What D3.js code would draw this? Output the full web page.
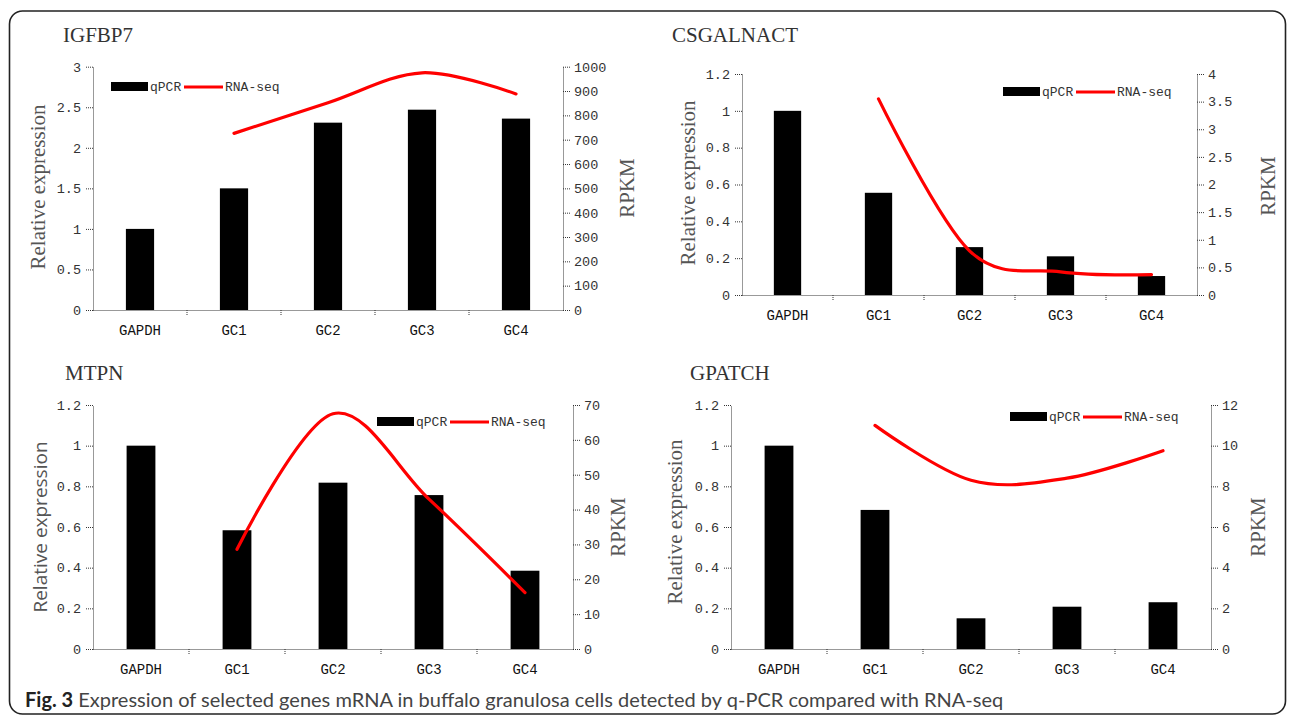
<!DOCTYPE html>
<html>
<head>
<meta charset="utf-8">
<script src="https://cdn.jsdelivr.net/npm/d3@7"></script>
<style>
body { margin: 0; background: #fff; }
svg { display: block; }
</style>
</head>
<body>
<svg id="fig" width="1290" height="719"></svg>
<script>
// data
var categories = ["GAPDH", "GC1", "GC2", "GC3", "GC4"];

var igfbp7Qpcr = [1, 1.5, 2.31, 2.47, 2.36];
var igfbp7Rpkm = [null, 726, 852, 975, 888];

var csgalnactQpcr = [1, 0.555, 0.26, 0.21, 0.103];
var csgalnactRpkm = [null, 3.55, 0.8, 0.42, 0.37];

var mtpnQpcr = [1, 0.584, 0.818, 0.757, 0.385];
var mtpnRpkm = [null, 28.6, 67.5, 43, 16.2];

var gpatchQpcr = [1, 0.684, 0.151, 0.208, 0.23];
var gpatchRpkm = [null, 11.0, 8.3, 8.4, 9.75];

var ticksRel3 = [0, 0.5, 1, 1.5, 2, 2.5, 3];
var ticksRel12 = [0, 0.2, 0.4, 0.6, 0.8, 1, 1.2];
var ticksRpkm1000 = [0, 100, 200, 300, 400, 500, 600, 700, 800, 900, 1000];
var ticksRpkm4 = [0, 0.5, 1, 1.5, 2, 2.5, 3, 3.5, 4];
var ticksRpkm70 = [0, 10, 20, 30, 40, 50, 60, 70];
var ticksRpkm12 = [0, 2, 4, 6, 8, 10, 12];

var captionBold = "Fig. 3";
var captionText = " Expression of selected genes mRNA in buffalo granulosa cells detected by q-PCR compared with RNA-seq";

var panels = [
    { title: "IGFBP7", qpcr: igfbp7Qpcr, rpkm: igfbp7Rpkm, leftTicks: ticksRel3, rightTicks: ticksRpkm1000,
      x0: 93, x1: 563, top: 66.7, bottom: 310, titleX: 63, titleY: 42,
      ylabX: 38, ylabY: 187, ylabSans: false, rpkmX: 627, rpkmY: 188, legX: 111, legY: 82 },
    { title: "CSGALNACT", qpcr: csgalnactQpcr, rpkm: csgalnactRpkm, leftTicks: ticksRel12, rightTicks: ticksRpkm4,
      x0: 742, x1: 1197, top: 74, bottom: 295, titleX: 672, titleY: 42,
      ylabX: 688, ylabY: 183, ylabSans: false, rpkmX: 1268, rpkmY: 186, legX: 1003, legY: 87 },
    { title: "MTPN", qpcr: mtpnQpcr, rpkm: mtpnRpkm, leftTicks: ticksRel12, rightTicks: ticksRpkm70,
      x0: 93, x1: 573, top: 405, bottom: 649, titleX: 65, titleY: 380,
      ylabX: 40, ylabY: 527, ylabSans: true, rpkmX: 618, rpkmY: 527, legX: 377, legY: 417 },
    { title: "GPATCH", qpcr: gpatchQpcr, rpkm: gpatchRpkm, leftTicks: ticksRel12, rightTicks: ticksRpkm12,
      x0: 731, x1: 1211, top: 405, bottom: 649, titleX: 690, titleY: 380,
      ylabX: 675, ylabY: 522, ylabSans: false, rpkmX: 1258, rpkmY: 527, legX: 1010, legY: 412 }
];

var svg = d3.select("#fig");
var mono = "'Liberation Mono', 'DejaVu Sans Mono', monospace";
var serif = "'Liberation Serif', 'DejaVu Serif', serif";
var sans = "'Open Sans', 'Noto Sans', sans-serif";

// outer frame
svg.append("rect")
    .attr("x", 9.5)
    .attr("y", 11)
    .attr("width", 1276)
    .attr("height", 703)
    .attr("rx", 13)
    .attr("fill", "none")
    .attr("stroke", "#222")
    .attr("stroke-width", 1.6);

var styleAxis = function (sel) {
    sel.select(".domain")
        .attr("stroke", "#333")
        .attr("stroke-dasharray", "1,1");
    sel.selectAll(".tick line")
        .attr("stroke", "#333")
        .attr("stroke-dasharray", "1,1");
    sel.selectAll(".tick text")
        .attr("fill", "#333")
        .style("font-family", mono)
        .style("font-size", "13.5px");
};

var drawPanel = function (p) {
    var g = svg.append("g");
    var rows = categories.map(function (c, i) {
        return { cat: c, qpcr: p.qpcr[i], rpkm: p.rpkm[i] };
    });

    var x = d3.scaleBand().domain(categories).range([p.x0, p.x1]);
    var y = d3.scaleLinear().domain([0, p.leftTicks[p.leftTicks.length - 1]]).range([p.bottom, p.top]);
    var y2 = d3.scaleLinear().domain([0, p.rightTicks[p.rightTicks.length - 1]]).range([p.bottom, p.top]);
    var barW = x.bandwidth() * 0.3;

    g.selectAll(null)
        .data(rows)
        .enter()
        .append("rect")
        .attr("x", function (d) { return x(d.cat) + (x.bandwidth() - barW) / 2; })
        .attr("y", function (d) { return y(d.qpcr); })
        .attr("width", barW)
        .attr("height", function (d) { return p.bottom - y(d.qpcr); })
        .attr("fill", "#000");

    // x axis: labels at band centres, small ticks between categories
    var xa = g.append("g")
        .attr("transform", "translate(0," + p.bottom + ")")
        .call(d3.axisBottom(x).tickSize(0).tickPadding(15).tickSizeOuter(0));
    styleAxis(xa);
    xa.selectAll(".tick text").attr("fill", "#111").style("font-size", "14px");
    g.selectAll(null)
        .data(categories.slice(1))
        .enter()
        .append("line")
        .attr("x1", function (d) { return x(d); })
        .attr("x2", function (d) { return x(d); })
        .attr("y1", p.bottom)
        .attr("y2", p.bottom + 5)
        .attr("stroke", "#333")
        .attr("stroke-dasharray", "1,1");

    var ya = g.append("g")
        .attr("transform", "translate(" + p.x0 + ",0)")
        .call(d3.axisLeft(y).tickValues(p.leftTicks).tickFormat(d3.format("~g"))
            .tickSize(7).tickPadding(5).tickSizeOuter(0));
    styleAxis(ya);

    var ya2 = g.append("g")
        .attr("transform", "translate(" + p.x1 + ",0)")
        .call(d3.axisRight(y2).tickValues(p.rightTicks).tickFormat(d3.format("~g"))
            .tickSize(8).tickPadding(3).tickSizeOuter(0));
    styleAxis(ya2);

    // RNA-seq smoothed line
    var line = d3.line()
        .defined(function (d) { return d.rpkm != null; })
        .x(function (d) { return x(d.cat) + x.bandwidth() / 2; })
        .y(function (d) { return y2(d.rpkm); })
        .curve(d3.curveCardinal);
    g.append("path")
        .datum(rows)
        .attr("d", line)
        .attr("fill", "none")
        .attr("stroke", "#ff0000")
        .attr("stroke-width", 3.2)
        .attr("stroke-linecap", "round");

    // titles
    g.append("text")
        .attr("x", p.titleX)
        .attr("y", p.titleY)
        .attr("fill", "#333")
        .style("font-family", serif)
        .style("font-size", "21px")
        .text(p.title);

    g.append("text")
        .attr("transform", "translate(" + p.ylabX + "," + p.ylabY + ") rotate(-90)")
        .attr("text-anchor", "middle")
        .attr("dominant-baseline", "central")
        .attr("fill", "#555")
        .style("font-family", p.ylabSans ? sans : serif)
        .style("font-size", p.ylabSans ? "19px" : "21px")
        .text("Relative expression");

    g.append("text")
        .attr("transform", "translate(" + p.rpkmX + "," + p.rpkmY + ") rotate(-90)")
        .attr("text-anchor", "middle")
        .attr("dominant-baseline", "central")
        .attr("fill", "#555")
        .style("font-family", serif)
        .style("font-size", "21px")
        .text("RPKM");

    // legend
    var leg = g.append("g").attr("transform", "translate(" + p.legX + "," + p.legY + ")");
    leg.append("rect").attr("width", 37).attr("height", 9).attr("fill", "#000");
    leg.append("text")
        .attr("x", 39).attr("y", 9)
        .attr("fill", "#333")
        .style("font-family", mono).style("font-size", "13px")
        .text("qPCR");
    leg.append("line")
        .attr("x1", 73).attr("x2", 112)
        .attr("y1", 5).attr("y2", 5)
        .attr("stroke", "#ff0000").attr("stroke-width", 3.2);
    leg.append("text")
        .attr("x", 114).attr("y", 9)
        .attr("fill", "#333")
        .style("font-family", mono).style("font-size", "13px")
        .text("RNA-seq");
};

panels.forEach(drawPanel);

var cap = svg.append("text")
    .attr("x", 25)
    .attr("y", 707)
    .attr("fill", "#444")
    .style("font-family", "Lato, 'Open Sans', sans-serif")
    .style("font-size", "20px");
cap.append("tspan").attr("font-weight", "bold").attr("fill", "#222").text(captionBold);
cap.append("tspan").text(captionText);
</script>
</body>
</html>
